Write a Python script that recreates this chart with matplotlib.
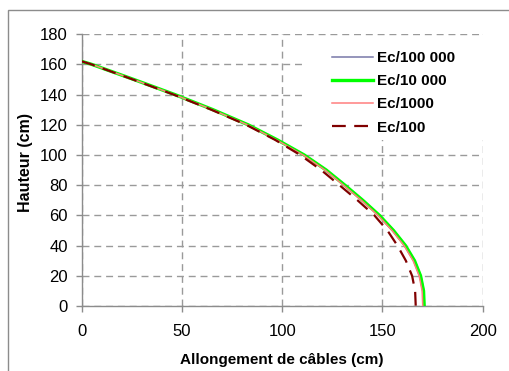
import numpy as np
import matplotlib
matplotlib.use('Agg')
import matplotlib.pyplot as plt
from matplotlib.patches import Rectangle

plt.rcParams['font.family'] = ['Liberation Sans', 'DejaVu Sans']

# heights (cm)
hauteur = [162, 160, 150, 140, 130, 120, 110, 100, 90, 80, 70, 60, 50, 40, 30, 20, 10, 0]

# cable elongation (cm) per stiffness ratio
ec_100000 = [0, 5.1, 26.2, 46.7, 65.7, 83.2, 97.8, 111.2, 122.2, 131.5, 140.4, 148.7, 155.7, 161.7, 166.2, 169.2, 170.7, 171.0]
ec_10000 = [0, 5.0, 26.0, 46.5, 65.5, 83.0, 97.6, 111.0, 122.0, 131.3, 140.2, 148.5, 155.5, 161.5, 166.0, 169.0, 170.5, 170.8]
ec_1000 = [0, 5.0, 25.8, 46.2, 65.1, 82.6, 97.1, 110.4, 121.4, 130.6, 139.5, 147.8, 154.8, 160.8, 165.3, 168.3, 169.8, 170.1]
ec_100 = [0, 4.9, 25.5, 45.8, 64.6, 82.0, 96.5, 109.0, 119.5, 128.6, 137.6, 146.0, 152.5, 157.5, 161.7, 164.8, 166.3, 166.6]

fig = plt.figure(figsize=(5.10, 3.71), dpi=100)
ax = fig.add_axes([0.160, 0.175, 0.7865, 0.733])

# outer chart border
fig.patches.append(Rectangle((8 / 510, -0.1), 1.2, 1 - 10 / 371 + 0.1, transform=fig.transFigure,
                             fill=False, edgecolor='#8c8c8c', linewidth=1.0))

ax.plot(ec_100000, hauteur, color='#7878a8', lw=1.1, label='Ec/100 000', zorder=3)
ax.plot(ec_10000, hauteur, color='#00ff00', lw=2.4, label='Ec/10 000', zorder=4)
ax.plot(ec_1000, hauteur, color='#ff7f7f', lw=1.1, label='Ec/1000', zorder=5)
ax.plot(ec_100, hauteur, color='#800000', lw=1.6, linestyle=(0, (6.2, 3.8)), label='Ec/100', zorder=6)

ax.set_xlim(0, 200)
ax.set_ylim(0, 180)
ax.set_xticks(np.arange(0, 201, 50))
ax.set_yticks(np.arange(0, 181, 20))

ax.set_axisbelow(True)
ax.grid(True, color='#9a9a9a', linestyle=(0, (5, 3.5)), linewidth=1.0)
for s in ['top', 'right']:
    ax.spines[s].set_visible(False)
for s in ['left', 'bottom']:
    ax.spines[s].set_color('#8c8c8c')
    ax.spines[s].set_linewidth(1.0)
ax.tick_params(colors='#8c8c8c', labelcolor='black', labelsize=12, length=4, width=1)
ax.tick_params(axis='x', pad=9)
ax.tick_params(axis='y', pad=6)

ax.set_xlabel('Allongement de câbles (cm)', fontsize=11, fontweight='bold')
ax.set_ylabel('Hauteur (cm)', fontsize=11.5, fontweight='bold')
ax.xaxis.set_label_coords(0.5, -0.172)
ax.yaxis.set_label_coords(-0.120, 0.529)

# white area behind legend
ax.add_patch(Rectangle((305 / 510, 1 - 140 / 371), 185 / 510, 102 / 371, transform=fig.transFigure,
                       facecolor='white', edgecolor='none', zorder=2.5, clip_on=False))

leg = ax.legend(loc='upper left', bbox_to_anchor=(332 / 510, 1 - 51 / 371), bbox_transform=fig.transFigure,
                frameon=False, prop={'weight': 'bold', 'size': 11}, handlelength=2.68,
                handletextpad=0.27, labelspacing=0.6, borderaxespad=0, borderpad=0)
leg.set_zorder(7)

fig.savefig('out.png', dpi=100)
